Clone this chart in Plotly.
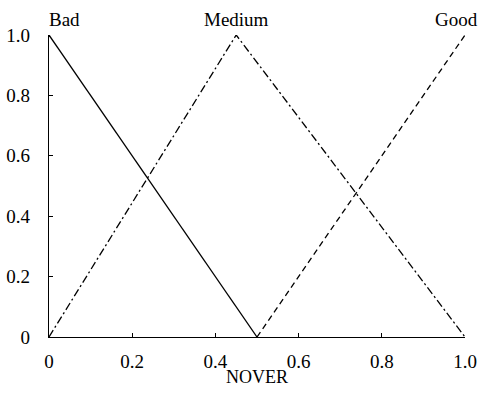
import plotly.graph_objects as go

# Membership functions for NOVER (triangular fuzzy sets)
bad_x = [0.0, 0.5]
bad_y = [1.0, 0.0]
medium_x = [0.0, 0.45, 1.0]
medium_y = [0.0, 1.0, 0.0]
good_x = [0.5, 1.0]
good_y = [0.0, 1.0]

x_ticks = [0, 0.2, 0.4, 0.6, 0.8, 1.0]
x_tick_labels = ["0", "0.2", "0.4", "0.6", "0.8", "1.0"]
y_ticks = [0, 0.2, 0.4, 0.6, 0.8, 1.0]
y_tick_labels = ["0", "0.2", "0.4", "0.6", "0.8", "1.0"]

FONT = "Liberation Serif, Times New Roman, serif"

fig = go.Figure()
fig.add_trace(go.Scatter(x=bad_x, y=bad_y, mode="lines",
                         line=dict(color="black", width=1.3, dash="solid"),
                         showlegend=False))
fig.add_trace(go.Scatter(x=medium_x, y=medium_y, mode="lines",
                         line=dict(color="black", width=1.3, dash="8px,3px,2px,3px"),
                         showlegend=False))
fig.add_trace(go.Scatter(x=good_x, y=good_y, mode="lines",
                         line=dict(color="black", width=1.3, dash="6px,4px"),
                         showlegend=False))

# Set names above each peak
fig.add_annotation(x=0, y=1.0, text="Bad", showarrow=False, xanchor="left",
                   yanchor="bottom", xshift=-2, yshift=3, font=dict(size=19))
fig.add_annotation(x=0.45, y=1.0, text="Medium", showarrow=False, xanchor="center",
                   yanchor="bottom", yshift=3, font=dict(size=19))
fig.add_annotation(x=1.0, y=1.0, text="Good", showarrow=False, xanchor="right",
                   yanchor="bottom", xshift=15, yshift=3, font=dict(size=19))

# Axis title below the x tick labels
fig.add_annotation(x=0.5, y=0, xref="paper", yref="paper", text="NOVER",
                   showarrow=False, xanchor="center", yanchor="middle",
                   yshift=-40, font=dict(size=18))

fig.update_layout(
    width=481, height=400,
    margin=dict(l=49, r=15.5, t=34.5, b=63),
    paper_bgcolor="white", plot_bgcolor="white",
    font=dict(family=FONT, size=19, color="black"),
)
fig.update_xaxes(
    range=[0, 1], tickvals=x_ticks, ticktext=x_tick_labels,
    showgrid=False, zeroline=False, showline=True, linecolor="black", linewidth=1.3,
    ticks="inside", ticklen=4, tickcolor="black", tickwidth=1.3,
    ticklabelstandoff=7, automargin=False,
)
fig.update_yaxes(
    range=[0, 1], tickvals=y_ticks, ticktext=y_tick_labels,
    showgrid=False, zeroline=False, showline=True, linecolor="black", linewidth=1.3,
    ticks="inside", ticklen=4, tickcolor="black", tickwidth=1.3,
    ticklabelstandoff=14, automargin=False,
)

fig.write_html("out.html")
